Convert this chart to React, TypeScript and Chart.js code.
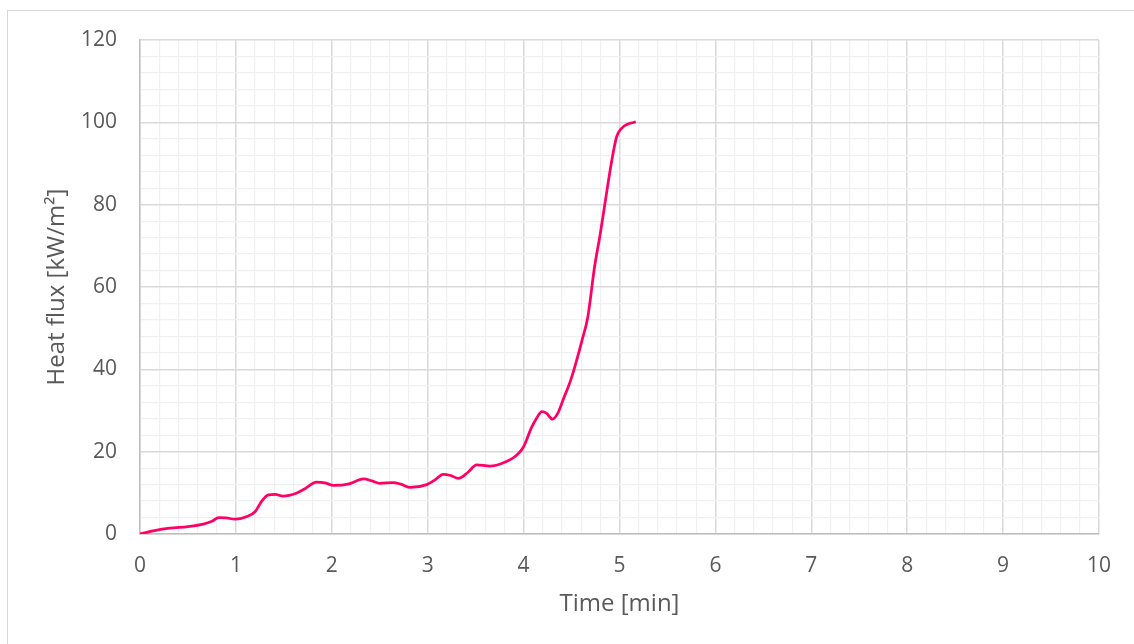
import React, { useEffect, useRef } from "react";
import { Chart, registerables } from "chart.js";

Chart.register(...registerables);

const timeMin = [
  0, 0.15, 0.31, 0.5, 0.66, 0.75, 0.82, 0.9, 0.99, 1.11, 1.2, 1.27, 1.34, 1.41, 1.49, 1.63, 1.72, 1.84, 1.93,
  2.02, 2.17, 2.33, 2.42, 2.5, 2.64, 2.72, 2.82, 2.99, 3.08, 3.16, 3.24, 3.32, 3.42, 3.51, 3.65, 3.79, 3.93,
  4.0, 4.08, 4.14, 4.19, 4.24, 4.3, 4.36, 4.41, 4.5, 4.61, 4.67, 4.74, 4.8, 4.87, 4.92, 4.97, 5.02, 5.09, 5.17,
];
const heatFlux = [
  0, 0.8, 1.4, 1.8, 2.4, 3.1, 4.0, 3.9, 3.6, 4.2, 5.4, 8.0, 9.5, 9.6, 9.2, 9.9, 11.0, 12.6, 12.4,
  11.8, 12.1, 13.4, 12.9, 12.3, 12.5, 12.1, 11.3, 12.0, 13.2, 14.5, 14.2, 13.5, 15.0, 16.8, 16.5, 17.3, 19.2,
  21.2, 25.7, 28.3, 29.7, 29.3, 27.9, 29.5, 32.5, 38.0, 47.1, 52.8, 64.9, 73.0, 83.6, 90.8, 96.5, 98.5, 99.6, 100.1,
];
const xMin = 0;
const xMax = 10;
const xMinorStep = 0.2;
const yMin = 0;
const yMax = 120;
const yMinorStep = 4;
const yMajorStep = 20;

const FONT = "'Open Sans', 'Noto Sans', sans-serif";
const TEXT = "#595959";
const MAJOR = "#d9d9d9";
const MINOR = "#f0f0f0";
const AXIS = "#bfbfbf";

const isMultiple = (v: number, step: number) => {
  const r = v / step;
  return Math.abs(r - Math.round(r)) < 1e-6;
};

export default function App() {
  const ref = useRef<HTMLCanvasElement | null>(null);

  useEffect(() => {
    if (!ref.current) return;
    const points = timeMin.map((t, i) => ({ x: t, y: heatFlux[i] }));
    const chart = new Chart(ref.current, {
      type: "line",
      data: {
        datasets: [
          {
            data: points,
            borderColor: "#ff0066",
            backgroundColor: "#ff0066",
            borderWidth: 2.75,
            pointRadius: 0,
            tension: 0.4,
            cubicInterpolationMode: "monotone",
            fill: false,
          },
        ],
      },
      options: {
        animation: false,
        responsive: false,
        maintainAspectRatio: false,
        layout: { padding: { left: 0, right: 35, top: 40, bottom: 0 } },
        plugins: { legend: { display: false }, tooltip: { enabled: false } },
        scales: {
          x: {
            type: "linear",
            min: xMin,
            max: xMax,
            afterFit: (s: any) => {
              s.height = 110;
            },
            ticks: {
              stepSize: xMinorStep,
              autoSkip: false,
              maxRotation: 0,
              padding: 19,
              color: TEXT,
              font: { family: FONT, size: 21 },
              callback: (v: any) => (isMultiple(Number(v), 1) ? String(Math.round(Number(v))) : ""),
            },
            grid: {
              drawTicks: false,
              color: (c: any) => (isMultiple(c.tick.value, 1) ? MAJOR : MINOR),
              lineWidth: (c: any) => (isMultiple(c.tick.value, 1) ? 1.5 : 1.2),
            },
            border: { color: AXIS, width: 1.5 },
            title: {
              display: true,
              text: "Time [min]",
              color: TEXT,
              font: { family: FONT, size: 24 },
              padding: { top: 0, bottom: 25 },
            },
          },
          y: {
            type: "linear",
            min: yMin,
            max: yMax,
            afterFit: (s: any) => {
              s.width = 140;
            },
            ticks: {
              stepSize: yMinorStep,
              autoSkip: false,
              padding: 23,
              color: TEXT,
              font: { family: FONT, size: 21 },
              callback: (v: any) => (isMultiple(Number(v), yMajorStep) ? String(Math.round(Number(v))) : ""),
            },
            grid: {
              drawTicks: false,
              color: (c: any) => (isMultiple(c.tick.value, yMajorStep) ? MAJOR : MINOR),
              lineWidth: (c: any) => (isMultiple(c.tick.value, yMajorStep) ? 1.5 : 1.2),
            },
            border: { color: AXIS, width: 1.5 },
            title: {
              display: true,
              text: "Heat flux [kW/m²]",
              color: TEXT,
              font: { family: FONT, size: 24 },
              padding: { top: 43, bottom: 0 },
            },
          },
        },
      },
    });
    return () => chart.destroy();
  }, []);

  return (
    <div style={{ position: "fixed", left: 0, top: 0, width: 1134, height: 644, overflow: "hidden", background: "#fff" }}>
      <div
        style={{
          position: "absolute",
          left: 7,
          top: 10,
          width: 1200,
          height: 700,
          borderLeft: "1px solid #d9d9d9",
          borderTop: "1px solid #d9d9d9",
        }}
      />
      <canvas ref={ref} width={1134} height={644} style={{ position: "absolute", left: 0, top: 0, display: "block" }} />
    </div>
  );
}
